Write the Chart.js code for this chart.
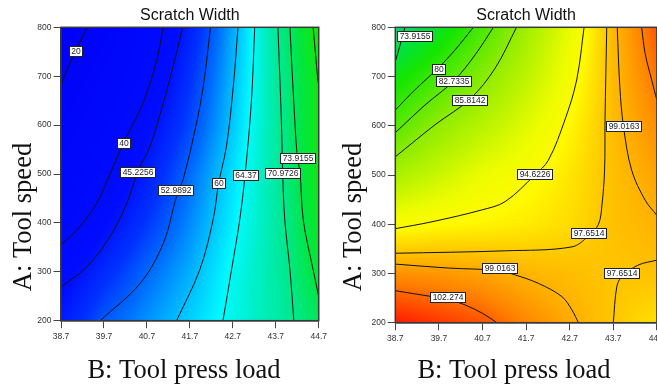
<!DOCTYPE html>
<html>
<head>
<meta charset="utf-8">
<script src="https://cdn.jsdelivr.net/npm/chart.js@4.4.1/dist/chart.umd.min.js"></script>
<style>
  html, body { margin: 0; padding: 0; background: #fff; overflow: hidden; width: 657px; height: 387px; }
  canvas { position: absolute; top: 0; }
  #left { left: 0; }
  #right { left: 330px; }
</style>
</head>
<body>
<canvas id="left" width="330" height="387"></canvas>
<canvas id="right" width="340" height="387"></canvas>
<script>
// axes (B: tool press load, A: tool speed)
const xTicks = [38.7, 39.7, 40.7, 41.7, 42.7, 43.7, 44.7];
const yTicks = [200, 300, 400, 500, 600, 700, 800];

// response estimated at each tick crossing, rows go from A=200 up to A=800
const leftGrid = [
  [46, 53.3, 57.3, 61.2, 65.3, 69.3, 73],
  [42, 48.6, 54.4, 59, 64.8, 69.6, 75],
  [35, 43.5, 50.3, 56.7, 63.3, 69.6, 76],
  [30, 38.5, 46.8, 54.7, 62.3, 69.8, 77],
  [25, 33, 43.2, 51.7, 60.7, 69.8, 77],
  [19.7, 29.2, 38.9, 49.6, 59.7, 70, 77],
  [12, 24, 36, 47, 58.7, 70.3, 78]
];
const rightGrid = [
  [104.5, 103.5, 102.6, 100.8, 99.2, 97.65, 96.3],
  [100.3, 100.1, 99.5, 98.7, 98.2, 97.8, 98.0],
  [94.3, 94.9, 95.3, 95.8, 96.6, 98.0, 98.8],
  [88, 90.5, 93, 94.3, 96.1, 98.1, 99.6],
  [82, 86.1, 89.1, 92.1, 95.1, 98.3, 100.5],
  [77, 81, 85.3, 89.5, 93.8, 98.4, 101.5],
  [71, 75.9, 81.2, 87.1, 92.7, 98.5, 102.5]
];

// contour lines, [B, A] pairs
const leftContours = [
  [[38.7, 684], [39.03, 750], [39.31, 800]],
  [[38.7, 355], [39.14, 392], [39.53, 440], [39.88, 508], [40.14, 561], [40.61, 645], [40.93, 733], [41.08, 800]],
  [[38.7, 269], [39.3, 310], [39.84, 372], [40.23, 440], [40.5, 508], [40.77, 556], [41.08, 645], [41.39, 747], [41.53, 800]],
  [[39.61, 200], [40.54, 276], [41.08, 358], [41.39, 454], [41.54, 488], [41.82, 590], [42.01, 678], [42.18, 800]],
  [[41.39, 200], [41.93, 304], [42.24, 406], [42.37, 481], [42.55, 556], [42.71, 678], [42.82, 800]],
  [[42.47, 200], [42.67, 304], [42.86, 406], [42.98, 494], [43.13, 645], [43.21, 800]],
  [[44.12, 200], [44.03, 304], [43.91, 406], [43.86, 503], [43.83, 610], [43.75, 800]],
  [[44.7, 249], [44.57, 304], [44.34, 406], [44.26, 508], [44.2, 534], [44.1, 678], [44.03, 800]],
  [[44.57, 800], [44.68, 692], [44.7, 682]]
];
const rightContours = [
  [[38.7, 730], [38.81, 764], [38.92, 800]],
  [[38.7, 632], [39.15, 673], [39.67, 716], [40.07, 754], [40.49, 800]],
  [[38.7, 586], [39.38, 642], [40.04, 691], [40.53, 744], [40.95, 800]],
  [[38.7, 537], [39.61, 602], [40.41, 654], [40.99, 717], [41.48, 800]],
  [[38.7, 391], [39.54, 405], [40.68, 429], [41.22, 446], [41.9, 500], [42.21, 530], [42.59, 612], [42.86, 693], [43.03, 800]],
  [[38.7, 341], [41.22, 346], [42.75, 354], [43.13, 376], [43.36, 400], [43.44, 439], [43.5, 510], [43.51, 612], [43.55, 800]],
  [[43.79, 800], [43.85, 679], [43.93, 601], [44.12, 510], [44.43, 449], [44.7, 418]],
  [[44.35, 800], [44.43, 747], [44.58, 693], [44.7, 652]],
  [[38.7, 319], [39.92, 311], [41.06, 306], [41.45, 297], [41.98, 280], [42.52, 253], [42.75, 226], [42.9, 200]],
  [[38.7, 265], [39.54, 253], [39.9, 248], [40.3, 236], [40.7, 219], [41.03, 200]],
  [[43.7, 200], [43.78, 273], [43.89, 293], [44.27, 317], [44.7, 327]]
];

// contour labels [text, B, A]
const leftLabels = [
  ['20', 39.03, 751], ['40', 40.15, 563], ['45.2256', 40.49, 505], ['52.9892', 41.36, 468],
  ['60', 42.37, 481], ['64.37', 42.99, 497], ['70.9726', 43.86, 503], ['73.9155', 44.21, 533]
];
const rightLabels = [
  ['73.9155', 39.14, 782], ['80', 39.68, 716], ['82.7335', 40.04, 691], ['85.8142', 40.41, 653],
  ['94.6226', 41.9, 502], ['99.0163', 43.93, 600], ['97.6514', 43.12, 383], ['99.0163', 41.09, 311],
  ['102.274', 39.9, 253], ['97.6514', 43.88, 301]
];

// colour ramps (value -> rgb)
const leftStops = [
  [10, [0, 0, 245]], [44, [0, 12, 255]], [50, [0, 50, 255]], [55, [0, 110, 255]], [60, [0, 190, 255]],
  [64, [0, 250, 255]], [67, [0, 240, 205]], [71, [0, 232, 140]], [74, [0, 230, 70]], [78, [20, 232, 0]]
];
const rightStops = [
  [70, [0, 215, 140]], [74, [0, 225, 70]], [78, [20, 230, 0]], [82, [85, 233, 0]], [86, [145, 236, 0]],
  [90, [195, 245, 0]], [93, [238, 252, 0]], [95, [255, 250, 0]], [96.5, [255, 222, 0]], [97.6, [255, 200, 0]],
  [99, [255, 175, 0]], [101, [255, 130, 0]], [103, [255, 70, 0]], [105, [255, 10, 0]]
];

function colorAt(stops, v) {
  if (v <= stops[0][0]) return stops[0][1];
  for (let i = 1; i < stops.length; i++) {
    if (v <= stops[i][0]) {
      const [v0, c0] = stops[i - 1], [v1, c1] = stops[i];
      const t = (v - v0) / (v1 - v0);
      return [0, 1, 2].map(k => c0[k] + (c1[k] - c0[k]) * t);
    }
  }
  return stops[stops.length - 1][1];
}

function sample(grid, xv, yv) {
  const fx = (xv - xTicks[0]) / (xTicks[1] - xTicks[0]);
  const fy = (yv - yTicks[0]) / (yTicks[1] - yTicks[0]);
  const i = Math.min(Math.max(Math.floor(fx), 0), xTicks.length - 2);
  const j = Math.min(Math.max(Math.floor(fy), 0), yTicks.length - 2);
  const tx = Math.min(Math.max(fx - i, 0), 1), ty = Math.min(Math.max(fy - j, 0), 1);
  const a = grid[j][i] * (1 - tx) + grid[j][i + 1] * tx;
  const b = grid[j + 1][i] * (1 - tx) + grid[j + 1][i + 1] * tx;
  return a * (1 - ty) + b * ty;
}

const heatPlugin = {
  id: 'heat',
  beforeDatasetsDraw(chart, args, opts) {
    const { ctx, chartArea: a, scales: { x, y } } = chart;
    const l = Math.round(a.left), t = Math.round(a.top);
    const w = Math.round(a.right) - l, h = Math.round(a.bottom) - t;
    const img = ctx.createImageData(w, h);
    for (let j = 0; j < h; j++) {
      const yv = y.getValueForPixel(t + j + 0.5);
      for (let i = 0; i < w; i++) {
        const c = colorAt(opts.stops, sample(opts.grid, x.getValueForPixel(l + i + 0.5), yv));
        const k = (j * w + i) * 4;
        img.data[k] = c[0]; img.data[k + 1] = c[1]; img.data[k + 2] = c[2]; img.data[k + 3] = 255;
      }
    }
    ctx.putImageData(img, l, t);
  }
};

const labelPlugin = {
  id: 'contourLabels',
  afterDatasetsDraw(chart, args, opts) {
    const { ctx, chartArea: a, scales: { x, y } } = chart;
    ctx.save();
    // frame round the plot
    ctx.strokeStyle = '#3a3a3a';
    ctx.lineWidth = 1.5;
    ctx.strokeRect(a.left, a.top, a.right - a.left, a.bottom - a.top);
    ctx.font = '8.5px "Liberation Sans", Arial, sans-serif';
    ctx.textAlign = 'center';
    ctx.textBaseline = 'middle';
    ctx.lineWidth = 1;
    opts.labels.forEach(([txt, bx, ay]) => {
      const px = x.getPixelForValue(bx), py = y.getPixelForValue(ay);
      const w = Math.round(ctx.measureText(txt).width + 4), h = 10;
      const l = Math.round(px - w / 2) + 0.5, t = Math.round(py - h / 2) + 0.5;
      ctx.fillStyle = '#fff';
      ctx.fillRect(l, t, w, h);
      ctx.strokeStyle = '#222';
      ctx.strokeRect(l, t, w, h);
      ctx.fillStyle = '#222';
      ctx.fillText(txt, l + w / 2, t + h / 2 + 0.5);
    });
    ctx.restore();
  }
};

const axisTitlePlugin = {
  id: 'axisTitles',
  afterDraw(chart, args, opts) {
    const ctx = chart.ctx;
    ctx.save();
    ctx.fillStyle = '#111';
    ctx.font = '26.5px "Liberation Serif", "Times New Roman", serif';
    ctx.textAlign = 'center';
    ctx.textBaseline = 'alphabetic';
    ctx.fillText('B: Tool press load', 184, 378);
    ctx.translate(31, 217);
    ctx.rotate(-Math.PI / 2);
    ctx.fillText('A: Tool speed', 0, 0);
    ctx.restore();
  }
};

const tickFont = { family: '"Liberation Sans", Arial, sans-serif', size: 8.5 };

function makeChart(id, contours, labels, grid, stops, yWidth, xHeight, padRight) {
  return new Chart(document.getElementById(id), {
    type: 'scatter',
    data: {
      datasets: contours.map(pts => ({
        data: pts.map(([x, y]) => ({ x, y })),
        showLine: true,
        borderColor: '#111',
        borderWidth: 1,
        pointRadius: 0,
        tension: 0.35,
        fill: false
      }))
    },
    options: {
      responsive: false,
      animation: false,
      layout: { padding: { left: 0, top: 0, bottom: 0, right: padRight } },
      plugins: {
        legend: { display: false },
        tooltip: { enabled: false },
        title: {
          display: true,
          text: 'Scratch Width',
          fullSize: false,
          color: '#111',
          font: { family: '"Liberation Sans", Arial, sans-serif', size: 16, weight: 'normal' },
          padding: { top: 5.6, bottom: 2.5 }
        },
        heat: { grid, stops },
        contourLabels: { labels }
      },
      scales: {
        x: {
          type: 'linear',
          min: xTicks[0],
          max: xTicks[xTicks.length - 1],
          afterBuildTicks: s => { s.ticks = xTicks.map(v => ({ value: v })); },
          afterFit: s => { s.height = xHeight; },
          ticks: { font: tickFont, color: '#333', padding: 3, maxRotation: 0, autoSkip: false, callback: v => v.toFixed(1) },
          grid: { drawOnChartArea: false, tickLength: 7.5, color: '#444' },
          border: { color: '#3a3a3a', width: 1.5 }
        },
        y: {
          type: 'linear',
          min: yTicks[0],
          max: yTicks[yTicks.length - 1],
          afterBuildTicks: s => { s.ticks = yTicks.map(v => ({ value: v })); },
          afterFit: s => { s.width = yWidth; },
          ticks: { font: tickFont, color: '#333', padding: 2, autoSkip: false },
          grid: { drawOnChartArea: false, tickLength: 7.5, color: '#444' },
          border: { color: '#3a3a3a', width: 1.5 }
        }
      }
    },
    plugins: [heatPlugin, labelPlugin, axisTitlePlugin]
  });
}

makeChart('left', leftContours, leftLabels, leftGrid, leftStops, 61, 66.3, 11);
makeChart('right', rightContours, rightLabels, rightGrid, rightStops, 65.3, 64.3, 13.1);
</script>
</body>
</html>
